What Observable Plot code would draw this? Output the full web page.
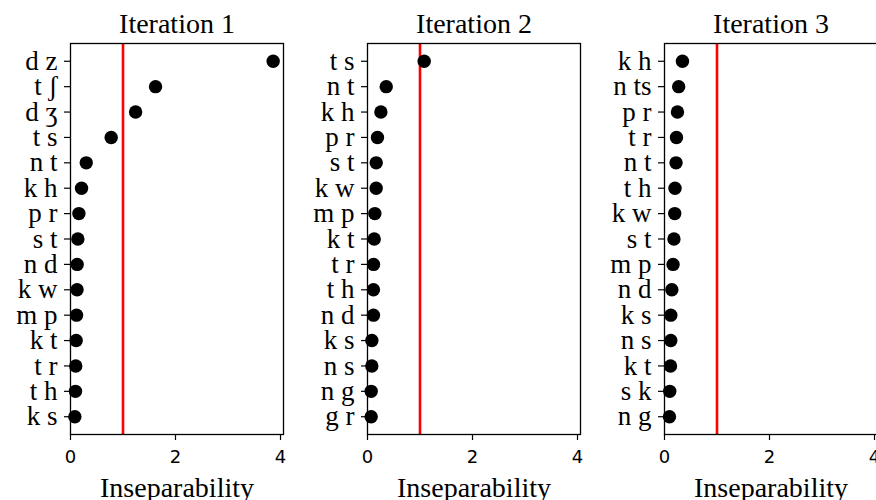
<!DOCTYPE html>
<html>
<head>
<meta charset="utf-8">
<script src="https://cdn.jsdelivr.net/npm/d3@7"></script>
<script src="https://cdn.jsdelivr.net/npm/@observablehq/plot@0.6"></script>
<style>
  html, body { margin: 0; padding: 0; background: #fff; }
  #wrap { position: relative; width: 876px; height: 500px; overflow: hidden; background: #fff; }
  .panel { position: absolute; top: 0; width: 295px; height: 500px; }
  .panel svg { overflow: visible; color: #000; max-width: none !important; }
</style>
</head>
<body>
<div id="wrap"></div>
<script>
const titles = ["Iteration 1", "Iteration 2", "Iteration 3"];
const xLabel = "Inseparability";
const xTicks = [0, 2, 4];
const threshold = [1];

const cats1 = ["d z","t ʃ","d ʒ","t s","n t","k h","p r","s t","n d","k w","m p","k t","t r","t h","k s"];
const vals1 = [3.86,1.62,1.24,0.775,0.30,0.21,0.16,0.14,0.127,0.125,0.115,0.108,0.10,0.095,0.083];
const cats2 = ["t s","n t","k h","p r","s t","k w","m p","k t","t r","t h","n d","k s","n s","n g","g r"];
const vals2 = [1.08,0.357,0.255,0.19,0.166,0.165,0.14,0.128,0.115,0.113,0.113,0.083,0.082,0.07,0.07];
const cats3 = ["k h","n ts","p r","t r","n t","t h","k w","s t","m p","n d","k s","n s","k t","s k","n g"];
const vals3 = [0.342,0.27,0.247,0.228,0.22,0.2,0.195,0.18,0.163,0.14,0.12,0.12,0.114,0.1,0.095];

const SERIF = "'Liberation Serif', 'DejaVu Serif', serif";
const SANS = "'DejaVu Sans', sans-serif";
const ML = 70, MR = 12, PW = 213;
const lefts = [70, 367, 664];

function panel(cats, vals, title, left) {
  const data = cats.map((c, i) => ({c, v: vals[i]}));
  const chart = Plot.plot({
    width: ML + PW + MR,
    height: 500,
    marginLeft: ML, marginRight: MR, marginTop: 43, marginBottom: 66,
    style: {background: "transparent", color: "#000"},
    x: {domain: [0, 4.057]},
    y: {type: "point", domain: cats, padding: 0.7, round: false},
    marks: [
      Plot.ruleX(threshold, {stroke: "#ff0000", strokeWidth: 2.6}),
      Plot.dot(data, {x: "v", y: "c", r: 6.7, fill: "#000", stroke: "none"}),
      Plot.frame({stroke: "#000", strokeWidth: 1.3}),
      Plot.axisY({tickSize: 6, tickPadding: 7, fontSize: 27, fontFamily: SERIF, label: null, stroke: "#000", strokeWidth: 1.2}),
      Plot.axisX({ticks: xTicks, tickFormat: d3.format("d"), tickSize: 6, tickPadding: 10, fontSize: 18, fontFamily: SANS, label: null, stroke: "#000", strokeWidth: 1.2}),
      Plot.text([title], {text: d => d, frameAnchor: "top", lineAnchor: "bottom", dy: -11, fontSize: 28, fontFamily: SERIF, fill: "#000"}),
      Plot.text([xLabel], {text: d => d, frameAnchor: "bottom", lineAnchor: "bottom", dy: 62, fontSize: 28, fontFamily: SERIF, fill: "#000"})
    ]
  });
  const div = document.createElement("div");
  div.className = "panel";
  div.style.left = (left - ML) + "px";
  div.appendChild(chart);
  document.getElementById("wrap").appendChild(div);
}

panel(cats1, vals1, titles[0], lefts[0]);
panel(cats2, vals2, titles[1], lefts[1]);
panel(cats3, vals3, titles[2], lefts[2]);
</script>
</body>
</html>
